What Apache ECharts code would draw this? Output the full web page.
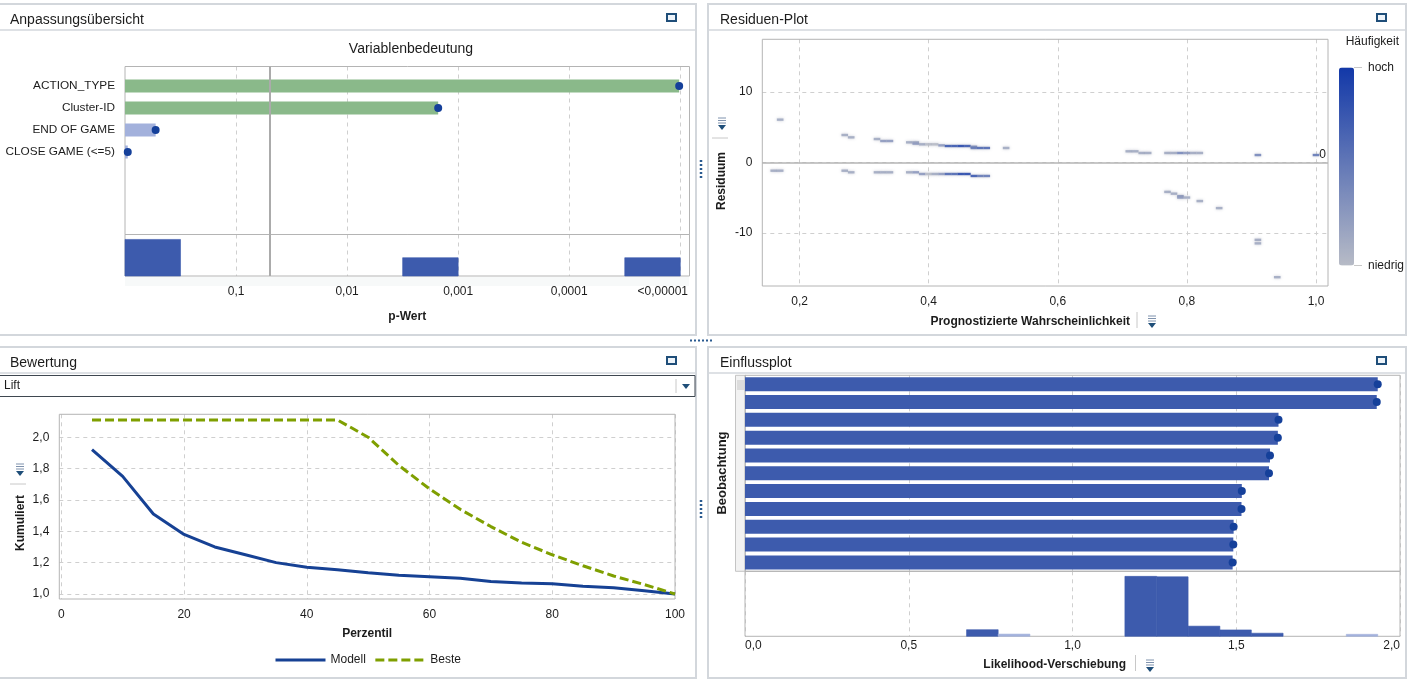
<!DOCTYPE html>
<html><head><meta charset="utf-8">
<style>html,body{margin:0;padding:0;background:#fff}#c{width:1413px;height:682px}</style>
<script src="https://cdn.jsdelivr.net/npm/echarts@6/dist/echarts.min.js"></script>
</head><body><div id="c"></div>
<script>
// ---- Variablenbedeutung (value = -log10 p)
const varNames = ['ACTION_TYPE','Cluster-ID','END OF GAME','CLOSE GAME (<=5)'];
const varImportance = [4.99, 2.82, 0.276, 0.025];
const pTickValues = [1,2,3,4,5];
const pTickLabels = ['0,1','0,01','0,001','0,0001','<0,00001'];
const pThreshold = 1.304;
const pHistStart = [0, 2.5, 4.5];
const pHistEnd = [0.5, 3.0, 5.0];
const pHistCount = [2, 1, 1];
// ---- Residuen-Plot: [predicted probability, residual, frequency]
const residualPoints = [
 [.17,6.05,2],[.27,3.87,2],[.28,3.54,2],[.32,3.3,2],[.33,3.02,3],[.34,3.02,3],[.37,2.83,2],[.38,2.83,2],[.38,2.65,3],
 [.39,2.55,2],[.40,2.55,1],[.41,2.55,1],[.42,2.4,3],[.43,2.31,7],[.44,2.31,7],[.45,2.31,8],[.46,2.31,7],[.47,2.2,4],
 [.47,2.03,5],[.48,2.03,6],[.49,2.03,6],[.52,2.03,2],
 [.16,-1.19,2],[.17,-1.19,2],[.27,-1.19,2],[.28,-1.42,2],[.32,-1.42,2],[.33,-1.42,2],[.34,-1.42,2],[.37,-1.42,2],[.38,-1.42,3],
 [.39,-1.66,3],[.40,-1.66,1],[.41,-1.66,2],[.42,-1.66,3],[.43,-1.66,6],[.44,-1.66,6],[.45,-1.66,8],[.46,-1.66,8],
 [.47,-1.94,7],[.48,-1.94,5],[.49,-1.94,5],
 [.71,1.56,2],[.72,1.56,2],[.73,1.32,2],[.74,1.32,2],[.77,1.32,2],[.78,1.32,2],[.79,1.32,4],[.80,1.32,3],[.81,1.32,2],[.82,1.32,2],
 [.91,1.03,4],[1.0,1.03,5],
 [.77,-4.2,2],[.78,-4.45,2],[.79,-4.8,3],[.79,-5.0,3],[.80,-5.0,2],[.82,-5.5,2],[.85,-6.5,2],
 [.91,-11,2],[.91,-11.5,2],[.94,-16.3,2]
];
const residualXTicks = [.2,.4,.6,.8,1.0];
const residualYTicks = [-10,0,10];
// ---- Bewertung
const percentile = [5,10,15,20,25,30,35,40,45,50,55,60,65,70,75,80,85,90,95,100];
const modelLift = [1.92,1.75,1.51,1.38,1.30,1.25,1.20,1.17,1.155,1.135,1.12,1.11,1.10,1.08,1.07,1.065,1.05,1.04,1.02,1.0];
const bestLift = [2.11,2.11,2.11,2.11,2.11,2.11,2.11,2.11,2.11,2.0,1.82,1.67,1.54,1.43,1.33,1.25,1.18,1.115,1.06,1.0];
const percentileTicks = [0,20,40,60,80,100];
const liftTicks = [1.0,1.2,1.4,1.6,1.8,2.0];
// ---- Einflussplot
const observations = ['1','2','3','4','5','6','7','8','9','10','11'];
const likelihoodShift = [1.932,1.929,1.629,1.627,1.603,1.600,1.517,1.516,1.492,1.491,1.489];
const shiftHistStart = [.6765,.773,1.160,1.257,1.353,1.45,1.546,1.836];
const shiftHistEnd = [.773,.870,1.257,1.353,1.45,1.546,1.643,1.932];
const shiftHistCount = [3,1,27.2,27,4.6,2.9,1.4,.9];

const FONT = '"Liberation Sans",Arial,sans-serif', TXT = '#1c1c1c', BLUE = '#3d5bad', DOT = '#15409a', GL = '#cfcfcf', FRAME = '#b4b4b4';
const comma = (v, d) => v.toFixed(d).replace('.', ',');
const hiddenAxis = (extra) => Object.assign({show:false}, extra);
const split = {show:true, lineStyle:{color:GL, type:[4,4], width:1}};
const label = (o) => Object.assign({color:TXT, fontFamily:FONT, fontSize:12}, o);

const histItem = (lightBelow) => (params, api) => {
  const a = api.coord([api.value(0), api.value(2)]);
  const b = api.coord([api.value(1), 0]);
  const fill = api.value(2) < lightBelow ? '#a3b1dc' : BLUE;
  return {type:'rect', shape:{x:a[0], y:a[1], width:b[0]-a[0], height:b[1]-a[1]},
    style:{fill, stroke:fill, lineWidth:.6}};
};

// chrome
const g = [];
const panel = (x,y,w,h,hy) => {
  g.push({type:'rect', z:0, shape:{x,y,width:w,height:h}, style:{fill:'#fff', stroke:'#d3d7dc', lineWidth:2}});
  g.push({type:'line', z:1, shape:{x1:x,y1:hy,x2:x+w,y2:hy}, style:{stroke:'#d3d7dc', lineWidth:1.5}});
  g.push({type:'rect', z:1, shape:{x:x+w-29,y:y+10,width:9,height:7}, style:{fill:'#eef4fa', stroke:'#1f4e79', lineWidth:2}});
};
const text = (x,y,s,o={}) => g.push({type:'text', z:5, x:x, y:y, rotation:o.rot||0, style:{text:s, fill:o.color||TXT,
  font:(o.bold?'bold ':'')+(o.size||12)+'px '+FONT, textAlign:o.align||'left', textVerticalAlign:'middle', textBaseline:'middle'}});
const icon = (x,y) => {
  [0,2.5,5].forEach(d => g.push({type:'line', z:5, shape:{x1:x-4,y1:y+d,x2:x+4,y2:y+d}, style:{stroke:'#7f92ad', lineWidth:1}}));
  g.push({type:'polygon', z:5, shape:{points:[[x-4,y+7],[x+4,y+7],[x,y+12]]}, style:{fill:'#1f4e79'}});
};
const seg = (x1,y1,x2,y2,c='#c8c8c8',dash=null,w=1) => g.push({type:'line', z:5, shape:{x1,y1,x2,y2}, style:{stroke:c, lineWidth:w, lineDash:dash}});

panel(-3,4,699,331,30); panel(708,4,698,331,30); panel(-3,347,699,331,373); panel(708,347,698,331,373);
text(10,20,'Anpassungsübersicht',{size:14}); text(720,20,'Residuen-Plot',{size:14});
text(10,363,'Bewertung',{size:14}); text(720,363,'Einflussplot',{size:14});
text(411,49,'Variablenbedeutung',{size:14,align:'center'});
// dropdown
g.push({type:'rect', z:2, shape:{x:-3,y:375.5,width:698,height:21}, style:{fill:'#fff', stroke:'#3f4750', lineWidth:1}});
text(4,386,'Lift'); seg(676,379,676,393);
g.push({type:'polygon', z:5, shape:{points:[[682,384],[690,384],[686,389]]}, style:{fill:'#1f4e79'}});
// strips
g.push({type:'rect', z:1, shape:{x:125,y:277,width:564,height:9}, style:{fill:'#f7f9f9'}});
g.push({type:'rect', z:1, shape:{x:735.5,y:375.3,width:10,height:196}, style:{fill:'#f2f2f2', stroke:'#c4c4c4', lineWidth:1}});
g.push({type:'rect', z:2, shape:{x:737,y:380,width:7,height:10}, style:{fill:'#dcdcdc'}});
// axis names
text(722,181,'Residuum',{bold:true,align:'center',rot:Math.PI/2});
text(1130,322,'Prognostizierte Wahrscheinlichkeit',{bold:true,size:12,align:'right'});
text(21,523,'Kumuliert',{bold:true,align:'center',rot:Math.PI/2});
text(722,473,'Beobachtung',{bold:true,size:13,align:'center',rot:Math.PI/2});
text(1126,665,'Likelihood-Verschiebung',{bold:true,size:12,align:'right'});
// legend labels for the colour ramp
text(1399,42,'Häufigkeit',{align:'right'}); text(1368,68,'hoch'); text(1368,266,'niedrig');
seg(1354,67.5,1362,67.5); seg(1354,265.5,1362,265.5);
// menu icons
icon(722,118); seg(712,138,728,138); icon(1152,316); seg(1137,312,1137,328);
icon(20,464); seg(10,484,26,484); icon(1150,660); seg(1135.5,655,1135.5,671);
// splitter handles
seg(701,160,701,180,'#2a5a90',[2,2],2.5); seg(701,500,701,520,'#2a5a90',[2,2],2.5); seg(690,340.5,714,340.5,'#2a5a90',[2,2],2);

const option = {
  animation:false, backgroundColor:'#fff', textStyle:{fontFamily:FONT},
  graphic:{elements:g},
  grid:[
    {left:125, width:564.5, top:66.5, height:168, show:true, borderColor:FRAME, borderWidth:1, z:2},
    {left:125, width:564.5, top:75, height:88, z:3},
    {left:125, width:564.5, top:234.5, height:41.5, show:true, borderColor:FRAME, borderWidth:1, z:2},
    {left:762.3, width:565.7, top:39.3, height:246.7, show:true, borderColor:FRAME, borderWidth:1, z:2},
    {left:59.3, width:615.7, top:414.3, height:184.7, show:true, borderColor:FRAME, borderWidth:1, z:2},
    {left:745, width:655, top:375.3, height:196, show:true, borderColor:FRAME, borderWidth:1, z:2},
    {left:745, width:655, top:571.3, height:65, show:true, borderColor:FRAME, borderWidth:1, z:2}
  ],
  xAxis:[
    {gridIndex:0, type:'value', min:0, max:5.083, axisLine:{show:false}, axisTick:{show:false, customValues:pTickValues}, axisLabel:{show:false}, splitLine:split},
    hiddenAxis({gridIndex:1, type:'value', min:0, max:5.083, splitLine:{show:false}}),
    {gridIndex:2, type:'value', min:0, max:5.083, name:'p-Wert', nameLocation:'middle', nameGap:35,
      nameTextStyle:{fontWeight:'bold', color:TXT, fontSize:12, fontFamily:FONT},
      axisLine:{show:false}, axisTick:{show:false, customValues:pTickValues},
      axisLabel:label({margin:10, customValues:pTickValues, hideOverlap:false,
        formatter:(v)=> v===5 ? '{a|'+pTickLabels[4]+'}' : pTickLabels[Math.round(v)-1],
        rich:{a:{padding:[0,35,0,0], color:TXT, fontFamily:FONT, fontSize:12}}}),
      splitLine:split},
    {gridIndex:3, type:'value', min:.1423, max:1.0186, axisLine:{show:false}, axisTick:{show:false, customValues:residualXTicks},
      axisLabel:label({margin:10, customValues:residualXTicks, formatter:v=>comma(v,1)}), splitLine:split},
    {gridIndex:4, type:'value', min:-.33, max:100, name:'Perzentil', nameLocation:'middle', nameGap:29,
      nameTextStyle:{fontWeight:'bold', color:TXT, fontSize:12, fontFamily:FONT},
      axisLine:{show:false}, axisTick:{show:false, customValues:percentileTicks},
      axisLabel:label({margin:10, customValues:percentileTicks, formatter:v=>String(Math.round(v))}), splitLine:split},
    {gridIndex:5, type:'value', min:0, max:2, interval:.5, axisLine:{show:false}, axisTick:{show:false}, axisLabel:{show:false}, splitLine:split},
    {gridIndex:6, type:'value', min:0, max:2, interval:.5, axisLine:{show:false}, axisTick:{show:false},
      axisLabel:label({margin:3, formatter:v=>comma(v,1), alignMinLabel:'left', alignMaxLabel:'right'}), splitLine:split}
  ],
  yAxis:[
    hiddenAxis({gridIndex:0, type:'value', min:0, max:1}),
    {gridIndex:1, type:'category', inverse:true, data:varNames, axisLine:{show:false}, axisTick:{show:false}, axisLabel:label({margin:10, fontSize:11.8, padding:[3,0,0,0]}), splitLine:{show:false}},
    hiddenAxis({gridIndex:2, type:'value', min:0, max:2.27}),
    {gridIndex:3, type:'value', min:-17.55, max:17.45, axisLine:{show:false}, axisTick:{show:false, customValues:residualYTicks},
      axisLabel:label({margin:10, customValues:residualYTicks, formatter:v=>String(v)}), splitLine:split},
    {gridIndex:4, type:'value', min:.968, max:2.146, axisLine:{show:false}, axisTick:{show:false, customValues:liftTicks},
      axisLabel:label({margin:10, customValues:liftTicks, formatter:v=>comma(v,1)}), splitLine:split},
    hiddenAxis({gridIndex:5, type:'category', inverse:true, data:observations}),
    hiddenAxis({gridIndex:6, type:'value', min:0, max:29.5})
  ],
  visualMap:[{type:'continuous', seriesIndex:5, dimension:2, min:1, max:9, left:1339, top:67.5, itemWidth:15, itemHeight:198,
    padding:0, calculable:false, hoverLink:false, text:null, textStyle:{fontSize:0}, inRange:{color:['#b7bbc6','#1238a8']}}],
  legend:{left:269, top:649, itemWidth:50, itemHeight:14, itemGap:8, textStyle:{color:TXT, fontSize:12, fontFamily:FONT},
    itemStyle:{color:'transparent', borderColor:'transparent', borderWidth:0}, lineStyle:{width:3},
    data:['Modell','Beste']},
  series:[
    {type:'scatter', xAxisIndex:0, yAxisIndex:0, data:[], silent:true,
      markLine:{silent:true, symbol:'none', label:{show:false}, lineStyle:{color:'#ababab', type:'solid', width:2}, data:[{xAxis:pThreshold}]}},
    {type:'bar', xAxisIndex:1, yAxisIndex:1, data:varImportance, barWidth:13,
      itemStyle:{color:(p)=> p.value > pThreshold ? '#8ab98a' : '#a3b1dc'}},
    {type:'scatter', xAxisIndex:1, yAxisIndex:1, data:varImportance.map((v,i)=>[v,i]), symbolSize:8, clip:false, z:5, itemStyle:{color:DOT, opacity:1}},
    {type:'custom', xAxisIndex:2, yAxisIndex:2, clip:false, z:3, encode:{x:[0,1], y:2},
      data:pHistStart.map((s,i)=>[s,pHistEnd[i],pHistCount[i]]), renderItem:histItem(0)},
    {type:'scatter', xAxisIndex:2, yAxisIndex:2, data:[], silent:true,
      markLine:{silent:true, symbol:'none', label:{show:false}, lineStyle:{color:'#ababab', type:'solid', width:2}, data:[{xAxis:pThreshold}]}},
    {type:'scatter', xAxisIndex:3, yAxisIndex:3, data:residualPoints, symbol:'rect', symbolSize:[6.6,2.4], z:4,
      itemStyle:{opacity:.9, shadowBlur:3, shadowColor:'rgba(130,135,160,.5)'},
      markLine:{silent:true, symbol:'none', lineStyle:{color:FRAME, type:'solid', width:1.5},
        label:{show:true, formatter:'0', position:'insideEndTop', color:TXT, fontSize:12, fontFamily:FONT, distance:2}, data:[{yAxis:0}]}},
    {type:'line', name:'Modell', xAxisIndex:4, yAxisIndex:4, data:percentile.map((p,i)=>[p,modelLift[i]]), showSymbol:false, symbol:'none', clip:false, z:4,
      lineStyle:{color:'#164194', width:3}, itemStyle:{color:'#164194'}},
    {type:'line', name:'Beste', xAxisIndex:4, yAxisIndex:4, data:percentile.map((p,i)=>[p,bestLift[i]]), showSymbol:false, symbol:'none', clip:false, z:5,
      lineStyle:{color:'#7f9f00', width:3, type:[9,4]}, itemStyle:{color:'#7f9f00'}},
    {type:'bar', xAxisIndex:5, yAxisIndex:5, data:likelihoodShift, barWidth:14, z:3, itemStyle:{color:BLUE}},
    {type:'scatter', xAxisIndex:5, yAxisIndex:5, data:likelihoodShift.map((v,i)=>[v,i]), symbolSize:8, clip:false, z:5, itemStyle:{color:DOT, opacity:1}},
    {type:'custom', xAxisIndex:6, yAxisIndex:6, clip:false, z:3, encode:{x:[0,1], y:2},
      data:shiftHistStart.map((s,i)=>[s,shiftHistEnd[i],shiftHistCount[i]]), renderItem:histItem(1.1)}
  ]
};
const chart = echarts.init(document.getElementById('c'), null, {renderer:'canvas'});
chart.setOption(option);
</script></body></html>
